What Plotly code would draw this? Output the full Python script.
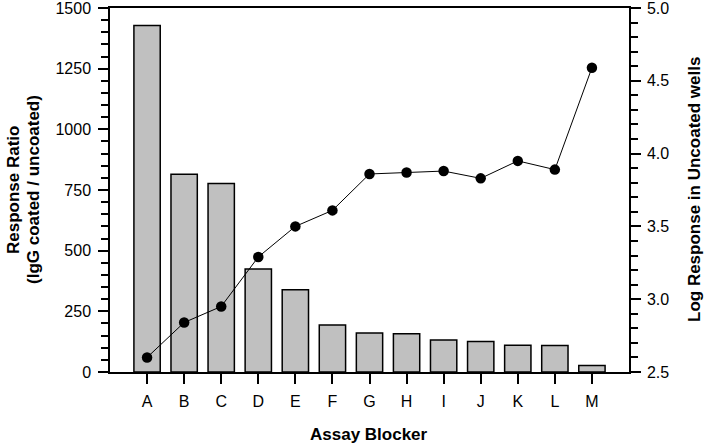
import plotly.graph_objects as go

categories = ["A", "B", "C", "D", "E", "F", "G", "H", "I", "J", "K", "L", "M"]
response_ratio = [1428, 815, 777, 424, 339, 194, 161, 158, 132, 126, 110, 109, 27]
log_response = [2.60, 2.84, 2.95, 3.29, 3.50, 3.61, 3.86, 3.87, 3.88, 3.83, 3.95, 3.89, 4.59]
left_ticks = [0, 250, 500, 750, 1000, 1250, 1500]
right_ticks = [2.5, 3.0, 3.5, 4.0, 4.5, 5.0]

xpos = list(range(len(categories)))
FONT = "Arial, Liberation Sans, sans-serif"

fig = go.Figure()
fig.add_trace(go.Bar(
    x=xpos, y=response_ratio, width=0.71,
    marker=dict(color="#c0c0c0", line=dict(color="black", width=1.5)),
    yaxis="y", showlegend=False, hoverinfo="skip",
))
fig.add_trace(go.Scatter(
    x=xpos, y=log_response, mode="lines+markers",
    line=dict(color="black", width=1),
    marker=dict(color="black", size=10.5),
    yaxis="y2", showlegend=False, hoverinfo="skip",
))

fig.update_layout(
    width=708, height=446,
    margin=dict(l=110, r=79, t=8, b=74, autoexpand=False),
    paper_bgcolor="white", plot_bgcolor="white",
    font=dict(family=FONT, size=16, color="black"),
    xaxis=dict(
        range=[-1.0, 13.0], tickvals=xpos, ticktext=categories,
        ticks="outside", ticklen=10, tickwidth=1.5, tickcolor="black",
        showline=True, linecolor="black", linewidth=1.5, mirror=True,
        showgrid=False, zeroline=False, ticklabelstandoff=4, automargin=False,
    ),
    yaxis=dict(
        range=[0, 1500], tickvals=left_ticks,
        ticks="outside", ticklen=10, tickwidth=1.5, tickcolor="black",
        minor=dict(dtick=50, ticks="outside", ticklen=7, tickwidth=1.5, tickcolor="black", showgrid=False),
        showline=True, linecolor="black", linewidth=1.5,
        showgrid=False, zeroline=False, automargin=False,
        ticklabeloverflow="allow", ticklabelstandoff=4,
    ),
    yaxis2=dict(
        range=[2.5, 5.0], tickvals=right_ticks, ticktext=[f"{v:.1f}" for v in right_ticks],
        overlaying="y", side="right",
        ticks="outside", ticklen=10, tickwidth=1.5, tickcolor="black",
        minor=dict(dtick=0.1, ticks="outside", ticklen=7, tickwidth=1.5, tickcolor="black", showgrid=False),
        showline=True, linecolor="black", linewidth=1.5,
        showgrid=False, zeroline=False, automargin=False,
        ticklabeloverflow="allow", ticklabelstandoff=3,
    ),
    annotations=[
        dict(text="<b>Response Ratio</b>", xref="paper", yref="paper",
             x=(13 - 110) / 519, y=0.5, textangle=-90, showarrow=False,
             xanchor="center", yanchor="middle", font=dict(size=17)),
        dict(text="<b>(IgG coated / uncoated)</b>", xref="paper", yref="paper",
             x=(33 - 110) / 519, y=0.5, textangle=-90, showarrow=False,
             xanchor="center", yanchor="middle", font=dict(size=17)),
        dict(text="<b>Log Response in Uncoated wells</b>", xref="paper", yref="paper",
             x=(694 - 110) / 519, y=0.5, textangle=-90, showarrow=False,
             xanchor="center", yanchor="middle", font=dict(size=17)),
        dict(text="<b>Assay Blocker</b>", xref="paper", yref="paper",
             x=(369 - 110) / 519, y=(372 - 434) / 364, showarrow=False,
             xanchor="center", yanchor="middle", font=dict(size=17)),
    ],
)

fig.write_html("out.html", config={"displayModeBar": False},
               post_script="document.body.style.margin='0';")
